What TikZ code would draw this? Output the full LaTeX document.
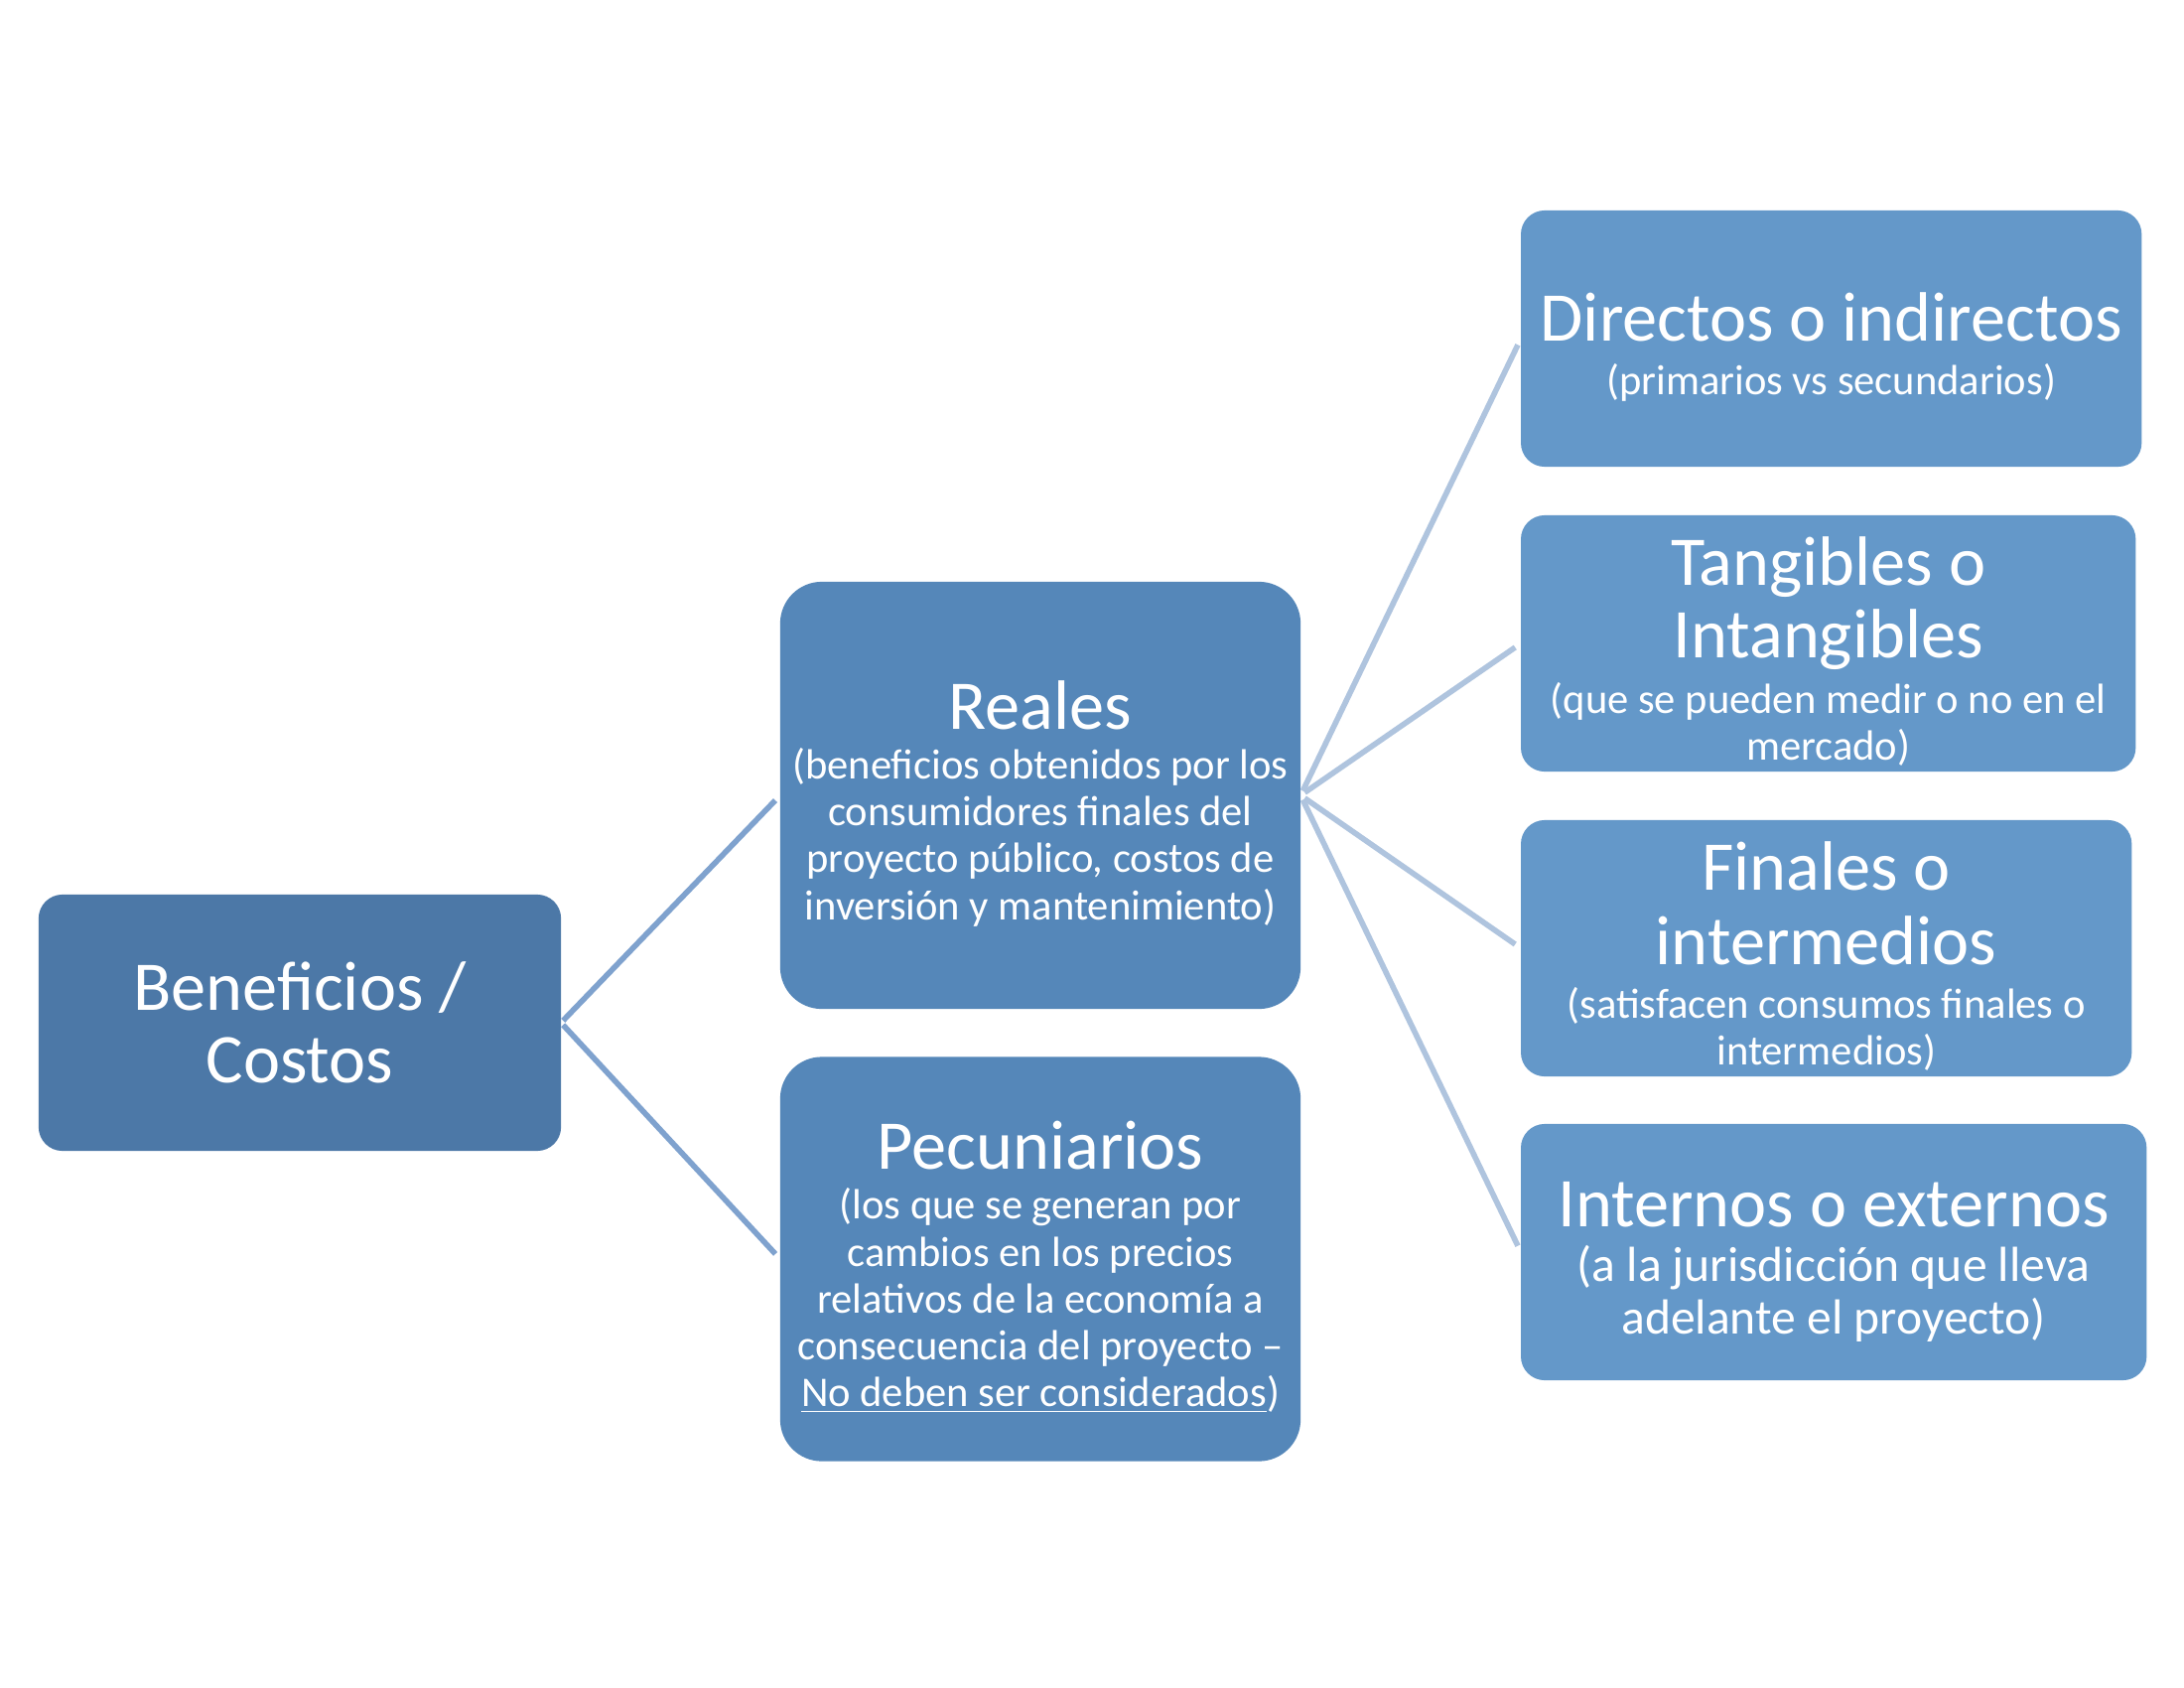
\documentclass[tikz,border=0pt]{standalone}
\usepackage{fontspec}
\setmainfont{Carlito}

\definecolor{rootblue}{HTML}{4C78A7}
\definecolor{midblue}{HTML}{5587B9}
\definecolor{leafblue}{HTML}{6498C9}
\definecolor{linkone}{HTML}{7FA2CE}
\definecolor{linktwo}{HTML}{AFC4DE}

\newcommand\ttl{\fontsize{20}{20.7}\selectfont}
\newcommand\subt{\fontsize{12.1}{13.4}\selectfont}
\newcommand\subtbig{\fontsize{14.1}{15.2}\selectfont}
\newcommand\tstrut{\rule{0pt}{18.5pt}}

\begin{document}
\begin{tikzpicture}[x=0.01cm,y=-0.01cm]
  % some styles
  \tikzset{
    box/.style={
      rectangle,
      rounded corners=0.24cm,
      inner sep=0mm,
      outer sep=0mm,
      text=white,
      align=center,
      font=\subt
    },
    rootbox/.style={box, fill=rootblue, font=\ttl,
      minimum width=5.26cm, minimum height=2.58cm},
    midbox/.style={box, fill=midblue, rounded corners=0.42cm,
      minimum width=5.24cm},
    leafbox/.style={box, fill=leafblue, anchor=west,
      minimum height=2.58cm},
    linkA/.style={draw=linkone, line width=1.6pt,
      shorten <=0.03cm, shorten >=0.07cm},
    linkB/.style={draw=linktwo, line width=1.6pt,
      shorten <=0.05cm, shorten >=0.07cm}
  }

\useasboundingbox (0,0) rectangle (2200,1700);

% left
\node[rootbox] (root) at (302,1030) {Beneficios /\\ Costos};

% middle
\node[midbox, minimum height=4.30cm] (reales) at (1048,801)
  {{\ttl\tstrut Reales}\\[1pt]
   (beneficios obtenidos por los\\
   consumidores finales del\\
   proyecto público, costos de\\
   inversión y mantenimiento)};
\node[midbox, minimum height=4.07cm] (pecun) at (1048,1268)
  {{\ttl\tstrut Pecuniarios}\\[1pt]
   (los que se generan por\\
   cambios en los precios\\
   relativos de la economía a\\
   consecuencia del proyecto --\\
   \underline{No deben ser considerados})};

% right
\node[leafbox, minimum width=6.25cm] (direct) at (1532,341)
  {{\ttl\tstrut Directos o indirectos}\\[2pt]
   (primarios vs secundarios)};
\node[leafbox, minimum width=6.19cm] (tang) at (1532,648)
  {{\ttl\tstrut Tangibles o}\\[2.5pt]
   {\ttl Intangibles}\\[2.4pt]
   (que se pueden medir o no en el\\
   mercado)};
\node[leafbox, minimum width=6.15cm] (final) at (1532,955)
  {{\ttl\tstrut Finales o}\\[6.3pt]
   {\ttl intermedios}\\[2pt]
   (satisfacen consumos finales o\\
   intermedios)};
\node[leafbox, minimum width=6.30cm, font=\subtbig] (intern) at (1532,1261)
  {{\ttl\tstrut Internos o externos}\\[0.5pt]
   (a la jurisdicción que lleva\\
   adelante el proyecto)};

% connectors
\foreach \n in {reales,pecun}
  \draw[linkA] (root.east) -- (\n.west);
\foreach \n in {direct,tang,final,intern}
  \draw[linkB] (reales.east) -- (\n.west);

\end{tikzpicture}
\end{document}
